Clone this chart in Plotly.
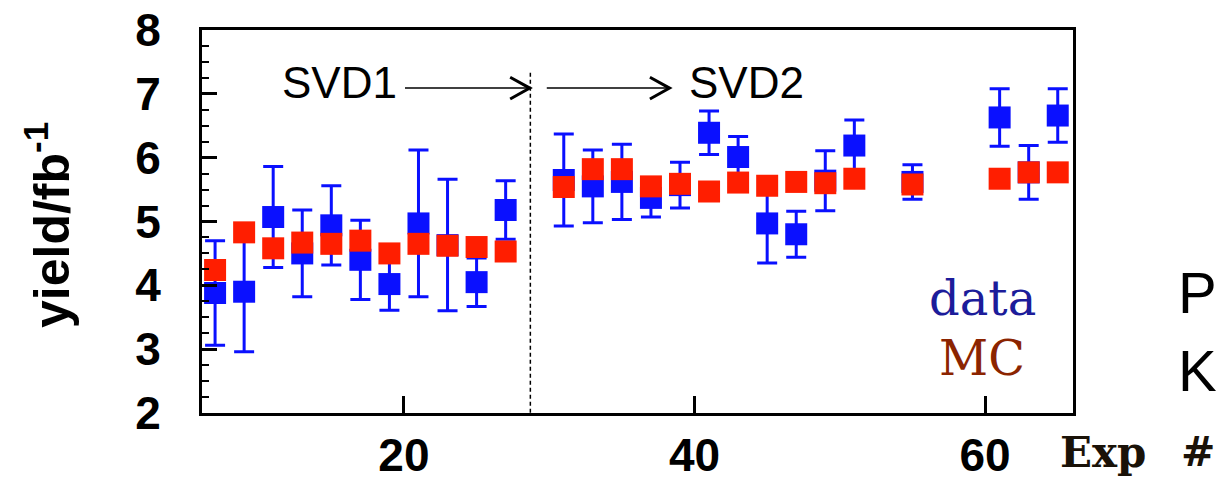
import plotly.graph_objects as go

# ---- data ----
exp_no = [7, 9, 11, 13, 15, 17, 19, 21, 23, 25, 27,
          31, 33, 35, 37, 39, 41, 43, 45, 47, 49, 51, 55, 61, 63, 65]
data_yield = [3.88, 3.90, 5.07, 4.50, 4.94, 4.40, 4.02, 4.97, 4.63, 4.05, 5.18,
              5.65, 5.55, 5.62, 5.37, 5.57, 6.39, 6.01, 4.97, 4.80, 5.64, 6.19, 5.62, 6.63, 5.77, 6.66]
data_err = [0.82, 0.94, 0.79, 0.68, 0.62, 0.62, 0.41, 1.15, 1.03, 0.38, 0.46,
            0.72, 0.57, 0.59, 0.30, 0.36, 0.34, 0.32, 0.62, 0.36, 0.47, 0.40, 0.27, 0.45, 0.42, 0.42]
mc_yield = [4.24, 4.83, 4.58, 4.67, 4.65, 4.70, 4.50, 4.65, 4.62, 4.60, 4.53,
            5.54, 5.82, 5.82, 5.55, 5.59, 5.47, 5.61, 5.56, 5.62, 5.60, 5.67, 5.58, 5.67, 5.77, 5.77]

x_ticks = [20, 40, 60]
y_ticks = [2, 3, 4, 5, 6, 7, 8]
svd_boundary = 28.7
arrow_y = 7.09
arrow_x0 = [20.07, 29.83]
arrow_x1 = [28.66, 38.28]

BLUE = "#0a10ff"
RED = "#ff1e00"

fig = go.Figure()
fig.add_trace(go.Scatter(
    x=exp_no, y=data_yield, mode="markers", name="data",
    marker=dict(symbol="square", size=22, color=BLUE),
    error_y=dict(type="data", array=data_err, visible=True,
                 color=BLUE, thickness=3, width=10),
    cliponaxis=False,
))
fig.add_trace(go.Scatter(
    x=exp_no, y=mc_yield, mode="markers", name="MC",
    marker=dict(symbol="square", size=22, color=RED),
    cliponaxis=False,
))

# plot area in pixels
PL, PR, PT, PB = 202, 1073, 30, 413
def px(x):
    return (x - PL) / (PR - PL)
def py(y):
    return (PB - y) / (PB - PT)

shapes = []
# dashed SVD boundary
shapes.append(dict(type="line", xref="x", yref="y", x0=svd_boundary, x1=svd_boundary,
                   y0=7.33, y1=2, line=dict(color="black", width=1.5, dash="4px,3px")))
# arrows
for x0, x1 in zip(arrow_x0, arrow_x1):
    shapes.append(dict(type="line", xref="x", yref="y", x0=x0, x1=x1, y0=arrow_y, y1=arrow_y,
                       line=dict(color="black", width=1.5)))
    shapes.append(dict(type="path", xref="x", yref="y",
                       path=f"M {x1-1.35},{arrow_y+0.17} L {x1},{arrow_y} L {x1-1.35},{arrow_y-0.17}",
                       line=dict(color="black", width=3)))

ann = []
def add_text(text, x, y, size, family, color="black", xanchor="center", weight="normal", angle=0):
    ann.append(dict(text=text, x=px(x), y=py(y), xref="paper", yref="paper",
                    xanchor=xanchor, yanchor="middle", showarrow=False, textangle=angle,
                    font=dict(size=size, family=family, color=color, weight=weight)))

add_text("SVD1", 339, 82, 44, "Liberation Sans, Arial")
add_text("SVD2", 746, 82, 44, "Liberation Sans, Arial")
add_text("data", 982, 298, 48, "DejaVu Serif", color="#1c1c9a")
add_text("MC", 982, 358, 48, "DejaVu Serif", color="#8b2400")
add_text("Exp", 1058, 452, 42, "DejaVu Serif", color="#1a1208", xanchor="left", weight="bold")
add_text("#", 1179, 452, 41, "DejaVu Serif", color="#1a1208", xanchor="left", weight="bold")
add_text("P", 1176, 292, 58, "Liberation Sans, Arial", xanchor="left")
add_text("K", 1176, 370, 58, "Liberation Sans, Arial", xanchor="left")
add_text("yield/fb<sup>-1</sup>", 48, 225, 50, "Liberation Sans, Arial", weight="bold", angle=-90)

fig.update_layout(
    width=1219, height=482,
    margin=dict(l=PL, r=1219 - PR, t=PT, b=482 - PB, pad=0, autoexpand=False),
    paper_bgcolor="white", plot_bgcolor="white",
    showlegend=False,
    shapes=shapes, annotations=ann,
)
fig.update_xaxes(
    range=[6.1, 66.05], tickvals=x_ticks, ticktext=[str(v) for v in x_ticks],
    showgrid=False, zeroline=False, automargin=False,
    showline=True, mirror=True, linecolor="black", linewidth=3,
    ticks="inside", ticklen=17, tickwidth=3, tickcolor="black",
    tickfont=dict(family="Liberation Sans, Arial", size=46, color="black", weight="bold"),
    ticklabelstandoff=0,
)
fig.update_yaxes(
    range=[2, 8], tickvals=y_ticks, ticktext=[str(v) for v in y_ticks],
    showgrid=False, zeroline=False, automargin=False,
    showline=True, mirror=True, linecolor="black", linewidth=3,
    ticks="inside", ticklen=15, tickwidth=3, tickcolor="black",
    minor=dict(ticks="inside", ticklen=7, tickwidth=2, tickcolor="black", dtick=0.25, showgrid=False),
    tickfont=dict(family="Liberation Sans, Arial", size=46, color="black", weight="bold"),
    ticklabelstandoff=29,
)

fig.write_html("out.html")
